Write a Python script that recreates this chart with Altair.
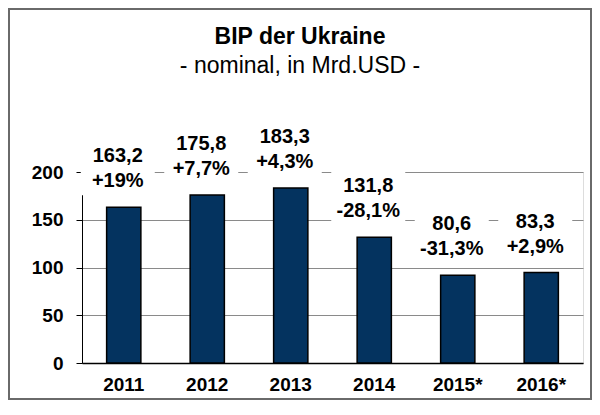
import altair as alt
import pandas as pd

years = ["2011", "2012", "2013", "2014", "2015*", "2016*"]
bar_heights = [163.2, 175.8, 183.3, 131.8, 92.0, 94.7]
value_labels = ["163,2", "175,8", "183,3", "131,8", "80,6", "83,3"]
change_labels = ["+19%", "+7,7%", "+4,3%", "-28,1%", "-31,3%", "+2,9%"]
y_ticks = [0, 50, 100, 150, 200]
title_text = "BIP der Ukraine"
subtitle_text = "- nominal, in Mrd.USD -"

df = pd.DataFrame({"year": years, "height": bar_heights,
                   "val": value_labels, "chg": change_labels})

FONT = "Liberation Sans"
W, H = 501, 191
PAD = {"left": 74, "top": 164, "right": 9, "bottom": 37}

x = alt.X("year:N", sort=years, title=None,
          scale=alt.Scale(paddingInner=0.59, paddingOuter=0.295),
          axis=alt.Axis(labelAngle=0, labelFont=FONT, labelFontSize=19,
                        labelFontWeight="bold", labelColor="black",
                        labelPadding=12, ticks=False, domainColor="black",
                        domainWidth=1.5, grid=False))
y = alt.Y("height:Q", title=None,
          scale=alt.Scale(domain=[0, 200], nice=False, zero=True),
          axis=alt.Axis(values=y_ticks, labelFont=FONT, labelFontSize=19,
                        labelFontWeight="bold", labelColor="black",
                        labelPadding=13, tickSize=6, tickColor="black",
                        domainColor="black", gridColor="#8a8a8a",
                        gridWidth=1.2))

base = alt.Chart(df)

bars = base.mark_bar(color="#04335F", stroke="black", strokeWidth=1.5).encode(x=x, y=y)

boxes = base.mark_bar(color="white", width=74, xOffset=-6,
                      yOffset=-12, y2Offset=-70).encode(
    x=alt.X("year:N", sort=years), y="height:Q", y2="height:Q")

val_text = base.mark_text(font=FONT, fontSize=20, fontWeight="bold",
                          color="black", baseline="middle", dx=-6, dy=-51).encode(
    x=alt.X("year:N", sort=years), y="height:Q", text="val:N")
chg_text = base.mark_text(font=FONT, fontSize=20, fontWeight="bold",
                          color="black", baseline="middle", dx=-6, dy=-26).encode(
    x=alt.X("year:N", sort=years), y="height:Q", text="chg:N")

one = alt.Data(values=[{}])
title_mark = alt.Chart(one).mark_text(
    font=FONT, fontSize=23, fontWeight="bold", color="black",
    baseline="middle", align="center", text=title_text).encode(
    x=alt.value(218), y=alt.value(-135))
subtitle_mark = alt.Chart(one).mark_text(
    font=FONT, fontSize=23, color="black",
    baseline="middle", align="center", text=subtitle_text).encode(
    x=alt.value(218), y=alt.value(-106))

border = alt.Chart(one).mark_rect(
    fill=None, stroke="#6a6a6a", strokeWidth=2).encode(
    x=alt.value(-PAD["left"] + 1), x2=alt.value(W + PAD["right"] - 1),
    y=alt.value(-PAD["top"] + 1), y2=alt.value(H + PAD["bottom"] - 1))

chart = alt.layer(bars, boxes, val_text, chg_text, title_mark, subtitle_mark,
                  border).properties(
    width=W, height=H,
    padding=PAD,
    autosize=alt.AutoSizeParams(type="none"),
).configure_view(stroke="#8a8a8a", strokeWidth=1.2).configure(background="white")

chart.save("out.html", embed_options={"renderer": "svg", "actions": False})
